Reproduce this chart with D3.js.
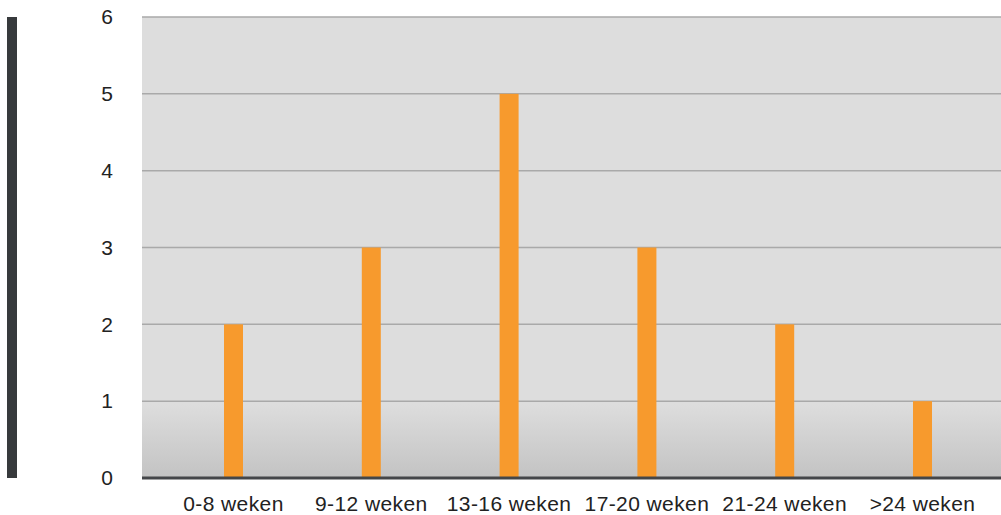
<!DOCTYPE html>
<html>
<head>
<meta charset="utf-8">
<script src="https://cdn.jsdelivr.net/npm/d3@7"></script>
<style>
  body { margin: 0; background: #fff; }
  svg { display: block; }
</style>
</head>
<body>
<script>
var categories = ["0-8 weken", "9-12 weken", "13-16 weken", "17-20 weken", "21-24 weken", ">24 weken"];
var values = [2, 3, 5, 3, 2, 1];
var yTicks = [0, 1, 2, 3, 4, 5, 6];

var svgWidth = 1001;
var svgHeight = 515;
var plotLeft = 142, plotRight = 1001, plotTop = 17, plotBottom = 478;

var svg = d3.select("body")
            .append("svg")
            .attr("width", svgWidth)
            .attr("height", svgHeight);

var y = d3.scaleLinear()
          .domain([0, 6])
          .range([plotBottom, plotTop]);

var x = d3.scaleBand()
          .domain(categories)
          .range([164.6, 991.4]);

var defs = svg.append("defs");
var grad = defs.append("linearGradient")
   .attr("id", "bg")
   .attr("x1", 0).attr("y1", 0).attr("x2", 0).attr("y2", 1);
grad.append("stop").attr("offset", "0").attr("stop-color", "#dddddd");
grad.append("stop").attr("offset", "0.84").attr("stop-color", "#dddddd");
grad.append("stop").attr("offset", "1").attr("stop-color", "#c3c3c3");

// left marker bar
svg.append("rect")
   .attr("x", 7).attr("y", plotTop)
   .attr("width", 10).attr("height", plotBottom - plotTop)
   .attr("fill", "#373a3c");

// plot background
svg.append("rect")
   .attr("x", plotLeft).attr("y", plotTop)
   .attr("width", plotRight - plotLeft).attr("height", plotBottom - plotTop)
   .attr("fill", "url(#bg)");

// gridlines
svg.selectAll("line.grid")
   .data(yTicks.filter(d => d > 0))
   .enter()
   .append("line")
   .attr("class", "grid")
   .attr("x1", plotLeft).attr("x2", plotRight)
   .attr("y1", d => y(d)).attr("y2", d => y(d))
   .attr("stroke", "#a9a9a9")
   .attr("stroke-width", 1.5);

// bars
var barW = 19;
svg.selectAll("rect.bar")
   .data(values)
   .enter()
   .append("rect")
   .attr("class", "bar")
   .attr("x", (d, i) => x(categories[i]) + x.bandwidth() / 2 - barW / 2)
   .attr("y", d => y(d))
   .attr("width", barW)
   .attr("height", d => plotBottom - y(d))
   .attr("fill", "#f79a2d");

// baseline
svg.append("line")
   .attr("x1", plotLeft).attr("x2", plotRight)
   .attr("y1", plotBottom).attr("y2", plotBottom)
   .attr("stroke", "#444649")
   .attr("stroke-width", 3);

// y tick labels
var yAxis = d3.axisLeft(y).tickValues(yTicks).tickFormat(d3.format("d")).tickSize(0).tickPadding(0);
var gy = svg.append("g")
   .attr("transform", "translate(113,0)")
   .call(yAxis);
gy.select(".domain").remove();
gy.selectAll("text")
   .attr("font-family", "Liberation Sans, Arial, sans-serif")
   .attr("font-size", "21px")
   .attr("fill", "#222");

// x labels
var xAxis = d3.axisBottom(x).tickSize(0).tickPadding(0);
var gx = svg.append("g")
   .attr("transform", "translate(0,510.5)")
   .call(xAxis);
gx.select(".domain").remove();
gx.selectAll("text")
   .attr("dy", 0)
   .attr("font-family", "Liberation Sans, Arial, sans-serif")
   .attr("font-size", "21px")
   .attr("letter-spacing", "0.4px")
   .attr("fill", "#222");
</script>
</body>
</html>
